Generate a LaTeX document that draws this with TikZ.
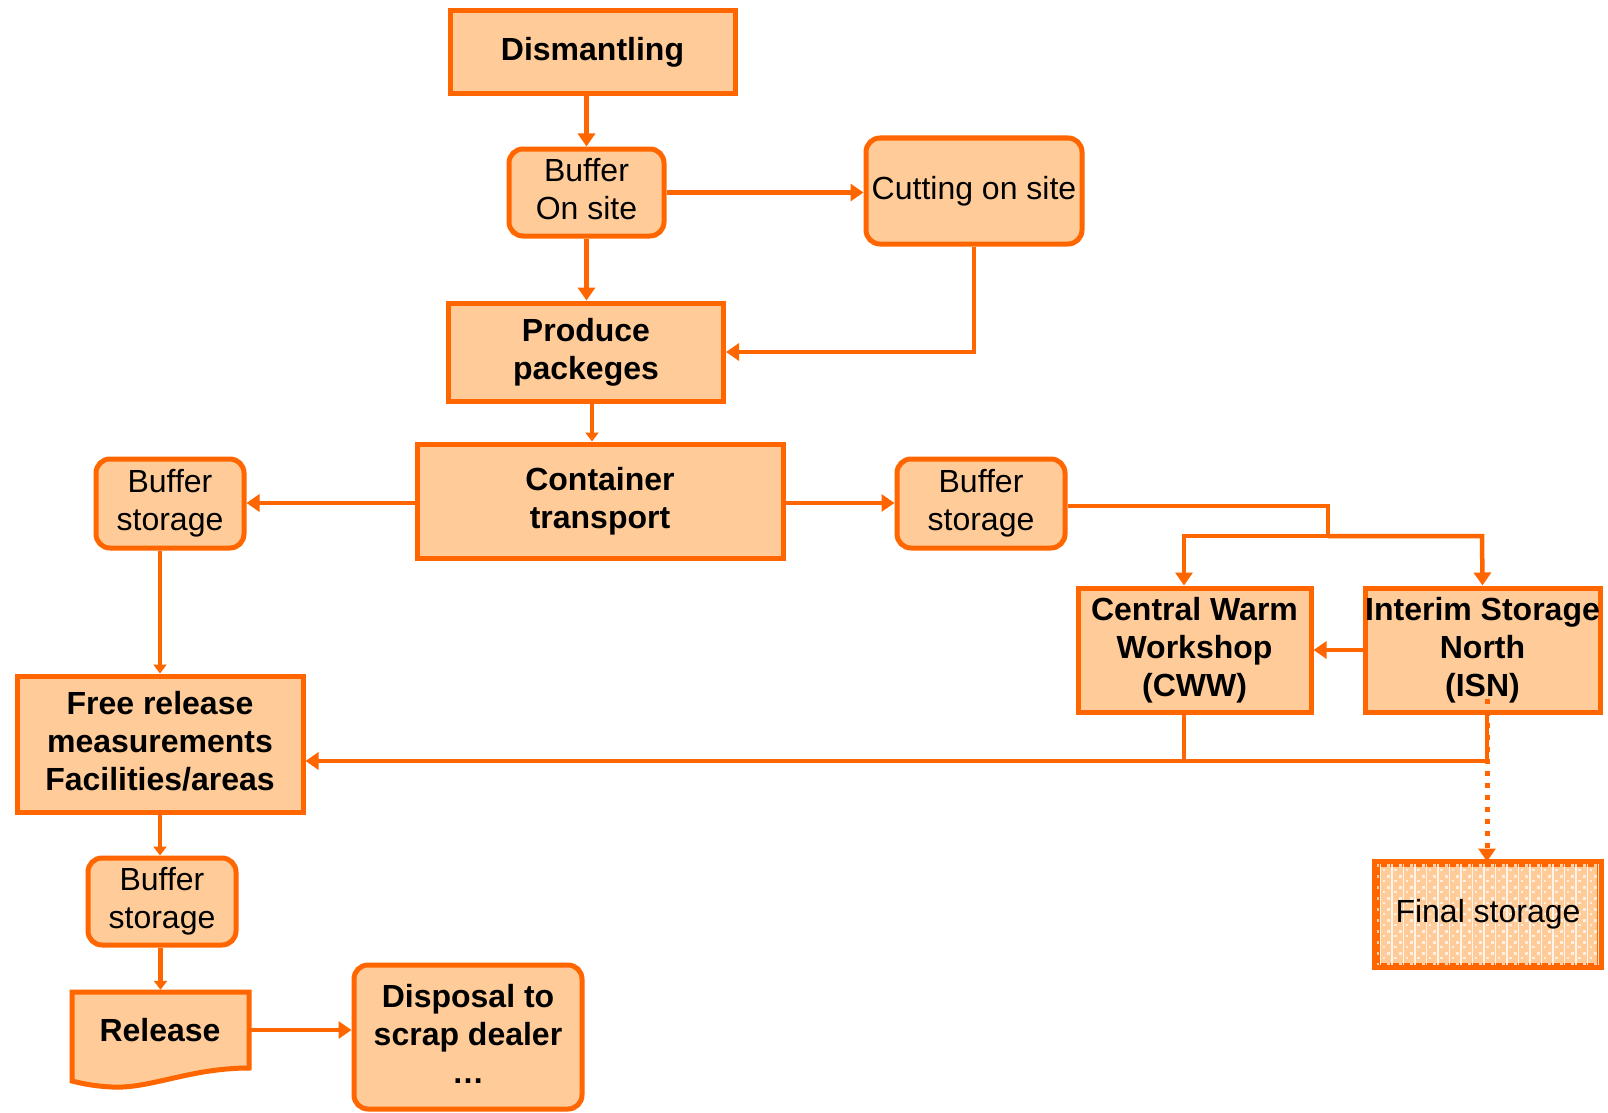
\documentclass[tikz,border=0pt]{standalone}
\usepackage{fontspec}
\setmainfont{Liberation Sans}
\usetikzlibrary{arrows.meta,calc}
\definecolor{org}{HTML}{FF6600}
\definecolor{peach}{HTML}{FFCC99}
\newcommand\mystrut{\rule[-7pt]{0pt}{30pt}}
\newcommand\ml[1]{\vbox{\baselineskip=38pt\lineskiplimit=-100pt\let\\\cr
  \halign{\hfil\mystrut##\hfil\cr#1\crcr}}}
\begin{document}
\begin{tikzpicture}[x=1pt,y=-1pt,
  box/.style={draw=org,fill=peach,line width=5pt,inner sep=0pt,
     font=\fontsize{32}{38}\selectfont},
  sq/.style={box,font=\fontsize{32}{38}\selectfont\bfseries},
  rnd/.style={box,rounded corners=14pt},
  conn/.style={draw=org,line width=4.5pt},
  arr/.style={conn,-{Triangle[length=13pt,width=17pt]}},
  sarr/.style={conn,-{Triangle[length=9pt,width=13pt]}},
  dotl/.style={draw=org,line width=5pt,dash pattern=on 5pt off 7pt,-{Triangle[length=13pt,width=17pt]}},
  txt/.style={font=\fontsize{32}{38}\selectfont,inner sep=0pt}]
\useasboundingbox (0,0) rectangle (1608,1113);

\node[sq,minimum width=285pt,minimum height=83pt] (dis) at (592.5,52) {\ml{Dismantling}};
\node[rnd,minimum width=155pt,minimum height=87pt] (bos) at (586.5,192.5) {\ml{Buffer\\On site}};
\node[rnd,minimum width=216pt,minimum height=106pt] (cut) at (974,191) {\ml{Cutting on site}};
\node[sq,minimum width=275pt,minimum height=98pt] (pp) at (586,352) {\ml{Produce\\packeges}};
\node[sq,minimum width=366pt,minimum height=114pt] (ct) at (600,501) {\ml{Container\\transport}};
\node[rnd,minimum width=148pt,minimum height=89pt] (bsl) at (170,503.5) {\ml{Buffer\\storage}};
\node[rnd,minimum width=168pt,minimum height=89pt] (bsr) at (981,503.5) {\ml{Buffer\\storage}};
\node[sq,minimum width=233pt,minimum height=124pt] (cww) at (1194.5,650) {\ml{Central Warm\\Workshop\\(CWW)}};
\node[sq,minimum width=235pt,minimum height=124pt] (isn) at (1482.5,650) {\ml{Interim Storage\\North\\(ISN)}};
\node[sq,minimum width=286pt,minimum height=136pt] (fr) at (160,744) {\ml{Free release\\measurements\\Facilities/areas}};
\node[rnd,minimum width=148pt,minimum height=87pt] (bsb) at (162,901.5) {\ml{Buffer\\storage}};
\node[rnd,font=\fontsize{32}{38}\selectfont\bfseries,minimum width=228pt,minimum height=144pt] (disp) at (468,1037) {\ml{Disposal to\\scrap dealer\\\dots}};

% final storage with texture
\node[box,minimum width=222pt,minimum height=101pt] (fin) at (1488,914.5) {};
\begin{scope}
  \clip (fin.south west) rectangle (fin.north east);
  \foreach \i in {0,...,19} {
    \draw[white,line width=1.2pt,opacity=0.8] ($(fin.north west)+(6+11.5*\i,0)$) -- ($(fin.south west)+(6+11.5*\i,0)$);
    \foreach \j in {0,...,9} {
      \fill[white,opacity=0.7] ($(fin.north west)+(1+11.5*\i,2+11*\j)$) rectangle ++(3,3);
      \fill[white,opacity=0.7] ($(fin.north west)+(8+11.5*\i,7+11*\j)$) rectangle ++(2.5,2.5);
    }
  }
\end{scope}
\draw[org,line width=5pt] (fin.south west) rectangle (fin.north east);
\node[txt] (fint) at (fin) {\ml{Final storage}};

% release document shape
\node[minimum width=177pt,minimum height=80pt,inner sep=0pt] (rel) at (160.5,1030) {};
\draw[org,fill=peach,line width=5pt,line join=miter]
  (72,992) -- (249,992) -- (249,1068)
  .. controls (190,1068) and (150,1089) .. (112,1087)
  .. controls (92,1086) and (80,1083) .. (72,1081) -- cycle;
\node[txt,font=\fontsize{32}{38}\selectfont\bfseries] (relt) at (160,1033) {\ml{Release}};

% coordinates
\coordinate (j1) at (1328,536);
\coordinate (cwwin) at (1184,536);
\coordinate (isnin) at (1482,536);
\coordinate (cwwout) at (1184,761);
\coordinate (isnout) at (1487,761);

% connectors
\draw[arr] (dis.south -| bos.north) -- (bos.north);
\draw[arr] (bos.east) -- (bos.east -| cut.west);
\draw[arr] (bos.south) -- (bos.south |- pp.north);
\draw[arr] (cut.south) |- (pp.east);
\draw[sarr] ($(pp.south)+(6,0)$) -- ($(pp.south |- ct.north)+(6,0)$);
\draw[arr] ($(ct.west)+(0,2)$) -- ($(ct.west -| bsl.east)+(0,2)$);
\draw[arr] ($(ct.east)+(0,2)$) -- ($(ct.east -| bsr.west)+(0,2)$);
\draw[conn] ($(bsr.east)+(0,2.5)$) -| (j1);
\draw[arr] (j1) -- (cwwin) -- (cwwin |- cww.north);
\draw[arr] (j1) -- (isnin) -- (isn.north);
\draw[arr] (isn.west) -- (cww.east);
\draw[dotl] ($(isn.south -| isnout)+(0,-16)$) -- (isnout |- fin.north);
\draw[conn] (cww.south -| cwwout) -- (cwwout);
\draw[arr] (isn.south -| isnout) -- (isnout) -- (isnout -| fr.east);
\draw[sarr] (bsl.south -| fr.north) -- (fr.north);
\draw[sarr] (fr.south) -- (fr.south |- bsb.north);
\draw[sarr] (bsb.south -| rel.north) -- (rel.north);
\draw[arr] (rel.east) -- (rel.east -| disp.west);
\end{tikzpicture}
\end{document}
